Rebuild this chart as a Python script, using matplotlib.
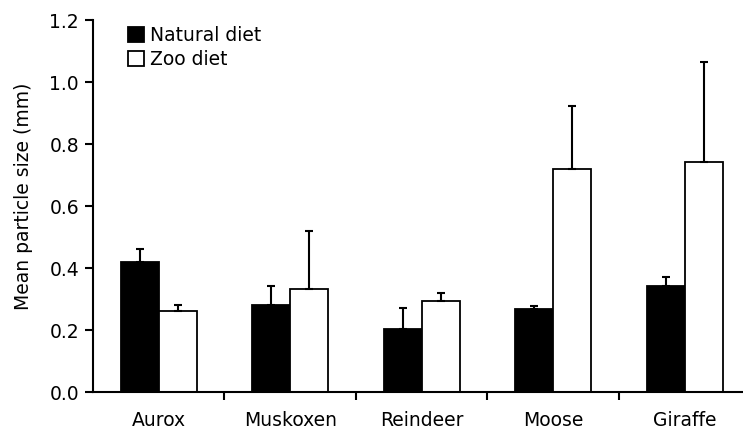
import matplotlib
matplotlib.use("Agg")
import matplotlib.pyplot as plt
import numpy as np

categories = ["Aurox", "Muskoxen", "Reindeer", "Moose", "Giraffe"]
natural = [0.42, 0.28, 0.204, 0.267, 0.342]
natural_err = [0.04, 0.062, 0.068, 0.011, 0.029]
zoo = [0.261, 0.332, 0.295, 0.718, 0.743]
zoo_err = [0.019, 0.188, 0.023, 0.205, 0.322]
yticks = [0.0, 0.2, 0.4, 0.6, 0.8, 1.0, 1.2]

plt.rcParams['font.family'] = ['DejaVu Sans']
fs = 13.5
fig = plt.figure(figsize=(7.43, 4.32), dpi=100)
ax = fig.add_axes([93/743, 1-392/432, 650/743, 372/432])

x = np.arange(len(categories))
w = 0.29
ekw = dict(elinewidth=1.5, capsize=3, capthick=1.5, ecolor='black')
ax.bar(x - w/2, natural, w, color='black', edgecolor='black', linewidth=1.3,
       yerr=[np.zeros(len(natural)), natural_err], error_kw=ekw, label='Natural diet')
ax.bar(x + w/2, zoo, w, color='white', edgecolor='black', linewidth=1.3,
       yerr=[np.zeros(len(zoo)), zoo_err], error_kw=ekw, label='Zoo diet')

ax.set_xlim(-0.5, 4.443)
ax.set_ylim(0, 1.2)
ax.set_yticks(yticks)
ax.set_yticklabels([f"{v:.1f}" for v in yticks], fontsize=fs)
ax.set_xticks(x)
ax.set_xticklabels(categories, fontsize=fs)
ax.tick_params(axis='x', which='major', length=0, pad=14)
ax.set_xticks(np.arange(0.5, 4.0, 1.0), minor=True)
ax.tick_params(axis='x', which='minor', length=6, width=1.5, direction='out')
ax.tick_params(axis='y', length=6, width=1.5, direction='out', pad=4)
for s in ['top', 'right']:
    ax.spines[s].set_visible(False)
for s in ['left', 'bottom']:
    ax.spines[s].set_linewidth(1.5)
ax.set_ylabel("Mean particle size (mm)", fontsize=fs)
ax.yaxis.set_label_coords(-0.092, 0.527)

ax.legend(loc='upper left', bbox_to_anchor=(0.028, 1.03), frameon=False, fontsize=fs,
          handlelength=0.85, handleheight=0.85, handletextpad=0.3, labelspacing=0.3)

fig.savefig("out.png", dpi=100)
